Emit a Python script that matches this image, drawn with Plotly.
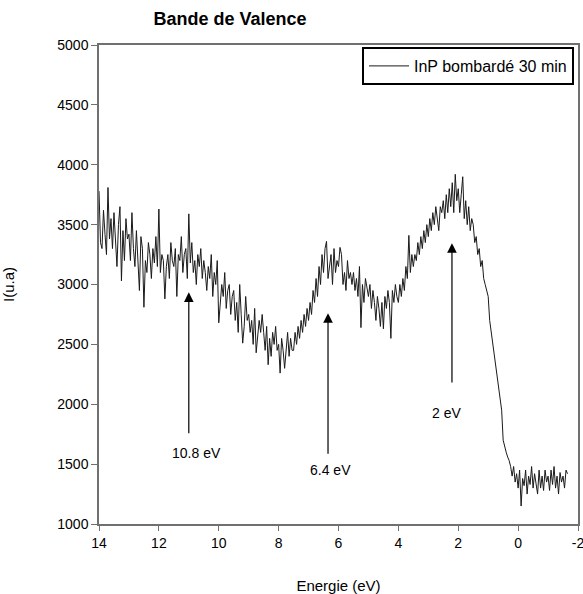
import plotly.graph_objects as go

# Energy axis (eV), step 0.05 from 14.0 down to -1.65
energy_start = 14.0
energy_step = -0.05

intensity = [
    # 14.0 .. 13.55
    3780, 3350, 3300, 3620, 3420, 3250, 3810, 3380, 3550, 3300,
    # 13.5 .. 13.05
    3600, 3400, 3150, 3500, 3650, 3030, 3450, 3200, 3550, 3380,
    # 13.0 .. 12.55
    3420, 3200, 3600, 3300, 3150, 3450, 3250, 2950, 3400, 3300,
    # 12.5 .. 12.05
    2810, 3200, 3100, 3350, 3250, 3050, 3300, 3180, 3400, 3150,
    # 12.0 .. 11.55
    3630, 3100, 3250, 3200, 2880, 3150, 3250, 3050, 3350, 3200,
    # 11.5 .. 11.05
    3150, 3300, 2900, 3250, 3200, 3400, 3100, 3250, 3300, 3050,
    # 11.0 .. 10.55
    3590, 3180, 3350, 3100, 3200, 3000, 3250, 3150, 3300, 3050,
    # 10.5 .. 10.05
    3200, 3100, 2950, 3150, 3050, 3250, 2900, 3100, 3000, 3200,
    # 10.0 .. 9.55
    2680, 2850, 3000, 2900, 3100, 2800, 2950, 3000, 2750, 2900,
    # 9.5 .. 9.05
    2950, 2700, 2850, 2600, 3000, 2750, 2510, 2650, 2900, 2700,
    # 9.0 .. 8.55
    2750, 2600, 2700, 2500, 2800, 2430, 2550, 2700, 2600, 2750,
    # 8.5 .. 8.05
    2600, 2450, 2650, 2330, 2550, 2400, 2600, 2500, 2650, 2450,
    # 8.0 .. 7.55
    2500, 2260, 2550, 2450, 2300, 2500, 2600, 2400, 2550, 2450,
    # 7.5 .. 7.05
    2450, 2600, 2500, 2650, 2550, 2700, 2600, 2750, 2650, 2800,
    # 7.0 .. 6.55
    2700, 2850, 2750, 2950, 2850, 3050, 2900, 3150, 3000, 3250,
    # 6.5 .. 6.05
    3100, 3300, 3360, 3050, 3150, 3250, 3000, 3300, 3100, 3200,
    # 6.0 .. 5.55
    3150, 3310, 3250, 3000, 3100, 2950, 3200, 3050, 3100, 3000,
    # 5.5 .. 5.05
    3100, 2950, 3050, 2900, 3150, 2640, 3000, 2850, 3050, 2950,
    # 5.0 .. 4.55
    2900, 3000, 2800, 2950, 2850, 2700, 2900, 2800, 2650, 2850,
    # 4.5 .. 4.05
    2630, 2900, 2800, 2950, 2850, 2550, 2950, 2850, 3000, 2900,
    # 4.0 .. 3.55
    2850, 3000, 2900, 3050, 2950, 3150, 3050, 3410, 3100, 3250,
    # 3.5 .. 3.05
    3150, 3250, 3200, 3350, 3250, 3400, 3300, 3450, 3350, 3500,
    # 3.0 .. 2.55
    3400, 3550, 3450, 3600, 3500, 3650, 3550, 3450, 3650, 3600,
    # 2.5 .. 2.05
    3700, 3550, 3750, 3600, 3800, 3650, 3850, 3600, 3920, 3700,
    # 2.0 .. 1.55
    3800, 3600, 3750, 3900, 3550, 3700, 3500, 3650, 3450, 3550,
    # 1.5 .. 1.05
    3500, 3350, 3400, 3250, 3300, 3150, 3200, 3050, 3000, 2950,
    # 1.0 .. 0.55
    2900, 2700, 2600, 2500, 2400, 2300, 2250, 2150, 2050, 1950,
    # 0.5 .. 0.05
    1700, 1640, 1600, 1560, 1530, 1480, 1400, 1480, 1350, 1420,
    # 0.0 .. -0.45
    1300, 1450, 1150, 1380, 1320, 1450, 1250, 1400, 1330, 1480,
    # -0.5 .. -0.95
    1300, 1420, 1350, 1250, 1450, 1300, 1400, 1280, 1450, 1350,
    # -1.0 .. -1.45
    1400, 1280, 1450, 1330, 1480, 1300, 1400, 1250, 1430, 1350,
    # -1.5 .. -1.65
    1400, 1300, 1450, 1420,
]
energy = [round(energy_start + i * energy_step, 2) for i in range(len(intensity))]

series_name = "InP bombardé 30 min"
chart_title = "Bande de Valence"
x_title = "Energie (eV)"
y_title = "I(u.a)"

x_ticks = [14, 12, 10, 8, 6, 4, 2, 0, -2]
x_tick_labels = ["14", "12", "10", "8", "6", "4", "2", "0", "-2"]
y_ticks = [1000, 1500, 2000, 2500, 3000, 3500, 4000, 4500, 5000]
y_tick_labels = ["1000", "1500", "2000", "2500", "3000", "3500", "4000", "4500", "5000"]

# peak markers: arrow x, arrow head y, arrow tail y, label text and position
peak_x = [11.0, 6.35, 2.21]
peak_head = [2935, 2760, 3345]
peak_tail = [1745, 1575, 2170]
peak_labels = ["10.8 eV", "6.4 eV", "2 eV"]
label_x = [10.73, 6.28, 2.38]
label_y = [1590, 1450, 1930]

font_family = "Liberation Sans, Arial, sans-serif"

W, H = 583, 594

fig = go.Figure()
fig.add_trace(go.Scatter(
    x=energy, y=intensity, mode="lines", name=series_name,
    line=dict(color="#1a1a1a", width=1),
))

annotations = []
for px, hy, ty in zip(peak_x, peak_head, peak_tail):
    annotations.append(dict(
        x=px, y=hy, ax=px, ay=ty, xref="x", yref="y", axref="x", ayref="y",
        showarrow=True, arrowhead=2, arrowsize=1.6, arrowwidth=1.2,
        arrowcolor="black", text="",
    ))
for lab, lx, ly in zip(peak_labels, label_x, label_y):
    annotations.append(dict(
        x=lx, y=ly, xref="x", yref="y", text=lab, showarrow=False,
        font=dict(size=14, color="black", family=font_family),
    ))

fig.update_layout(
    width=W, height=H,
    margin=dict(l=99, r=5, t=45, b=70, autoexpand=False),
    paper_bgcolor="white", plot_bgcolor="white",
    font=dict(family=font_family, color="black", size=14),
    title=dict(text="<b>" + chart_title + "</b>", x=230 / W, xanchor="center",
               y=1 - 19 / H, yanchor="middle", font=dict(size=18)),
    showlegend=True,
    legend=dict(x=(574 - 99) / 479, xanchor="right", y=(524 - 47) / 479, yanchor="top",
                bordercolor="black", borderwidth=2, bgcolor="white",
                font=dict(size=16), itemwidth=40),
    annotations=annotations,
    xaxis=dict(
        range=[14, -2], tickvals=x_ticks, ticktext=x_tick_labels,
        ticks="outside", ticklen=5,
        showline=True, linecolor="#707070", linewidth=1.5, mirror=True,
        showgrid=False, zeroline=False, tickcolor="#707070",
        tickfont=dict(size=14), automargin=False, ticklabeloverflow="allow",
        title=dict(text=x_title, font=dict(size=15), standoff=31),
    ),
    yaxis=dict(
        range=[1000, 5000], tickvals=y_ticks, ticktext=y_tick_labels,
        ticks="outside", ticklen=6,
        showline=True, linecolor="#707070", linewidth=1.5, mirror=True,
        showgrid=False, zeroline=False, tickcolor="#707070",
        tickfont=dict(size=14), automargin=False, ticklabeloverflow="allow",
        title=dict(text=y_title, font=dict(size=15), standoff=43),
    ),
)

# remove the default page margin so the figure fills the window exactly
fig.write_html(
    "out.html",
    config={"displayModeBar": False},
    post_script="document.body.style.margin='0';document.body.style.overflow='hidden';",
)
